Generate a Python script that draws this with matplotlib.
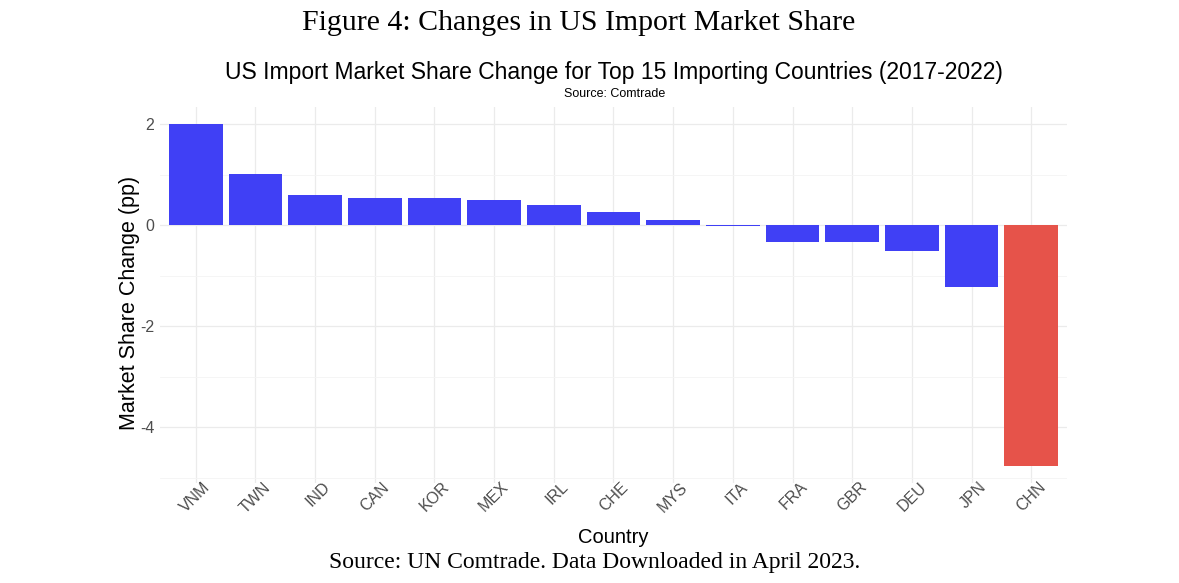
import matplotlib.pyplot as plt
import matplotlib.transforms as mtransforms
import numpy as np

countries = ['VNM', 'TWN', 'IND', 'CAN', 'KOR', 'MEX', 'IRL', 'CHE', 'MYS', 'ITA',
             'FRA', 'GBR', 'DEU', 'JPN', 'CHN']
share_change = [2.00, 1.02, 0.59, 0.53, 0.53, 0.49, 0.40, 0.26, 0.11, -0.02,
                -0.33, -0.33, -0.52, -1.22, -4.77]
highlight = 'CHN'

plt.rcParams['axes.unicode_minus'] = False

fig = plt.figure(figsize=(11.79, 5.83), dpi=100)
ax = fig.add_axes([0.1357, 0.1715, 0.7693, 0.645])

x = np.arange(len(countries))
colors = ['#E6534A' if c == highlight else '#4040F5' for c in countries]
ax.bar(x, share_change, width=0.9, color=colors, edgecolor='none', zorder=2)

ax.set_xlim(-0.6, len(countries) - 0.4)
lo, hi = min(share_change), max(share_change)
pad = (hi - lo) * 0.05
ax.set_ylim(lo - pad, hi + pad)

ax.set_yticks([-4, -2, 0, 2])
ax.set_yticks([-5, -3, -1, 1], minor=True)
ax.set_xticks(x)
ax.set_xticklabels(countries, rotation=45, ha='right', rotation_mode='anchor')
ax.tick_params(axis='both', which='both', length=0, colors='#4D4D4D', labelsize=11.5)
ax.tick_params(axis='x', pad=1)
ax.tick_params(axis='y', pad=4)
ax.grid(True, which='major', color='#EBEBEB', linewidth=0.9, zorder=0)
ax.grid(True, which='minor', axis='y', color='#F4F4F4', linewidth=0.6, zorder=0)
ax.set_axisbelow(True)
for s in ax.spines.values():
    s.set_visible(False)

sans = 'Liberation Sans'
serif = 'Liberation Serif'
shift = mtransforms.ScaledTranslation(7 / 100, 5 / 100, fig.dpi_scale_trans)
for lab in ax.get_xticklabels():
    lab.set_family(sans)
    lab.set_transform(lab.get_transform() + shift)
for lab in ax.get_yticklabels():
    lab.set_family(sans)

ax.set_xlabel('Country', family=sans, fontsize=14.5, labelpad=9)
fig.text(130 / 1179, 1 - 303 / 583, 'Market Share Change (pp)', family=sans,
         fontsize=15.5, rotation=90, ha='center', va='center')

fig.text(0.491, 0.96, 'Figure 4: Changes in US Import Market Share', family=serif,
         fontsize=21.5, ha='center', va='center')
fig.text(0.521, 0.875, 'US Import Market Share Change for Top 15 Importing Countries (2017-2022)',
         family=sans, fontsize=16.5, ha='center', va='center')
fig.text(0.521, 0.838, 'Source: Comtrade', family=sans, fontsize=9, ha='center', va='center')
fig.text(0.504, 0.035, 'Source: UN Comtrade. Data Downloaded in April 2023.', family=serif,
         fontsize=17, ha='center', va='center')

plt.savefig('out.png', dpi=100)
plt.close()
